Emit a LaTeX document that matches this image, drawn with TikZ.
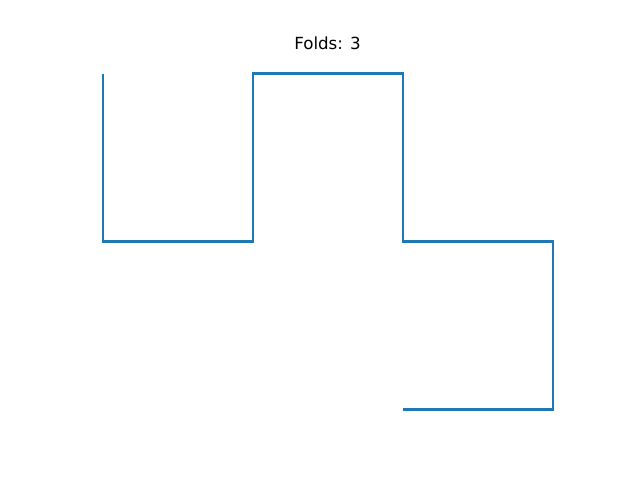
\documentclass[tikz,border=0pt]{standalone}
\usepackage{fontspec}
\setmainfont{DejaVu Sans}
\definecolor{mplblue}{HTML}{1F77B4}
\begin{document}
\begin{tikzpicture}[x=1pt,y=-1pt,
  curve/.style={draw=mplblue,line width=2.08pt,line join=miter,line cap=butt},
  titletext/.style={font=\fontsize{16.67}{20}\selectfont,anchor=base,inner sep=0pt}]
\useasboundingbox (0,0) rectangle (640,480);
\coordinate (p0) at (103,73.5);
\coordinate (p1) at (103,241.5);
\coordinate (p2) at (253,241.5);
\coordinate (p3) at (253,73.5);
\coordinate (p4) at (403,73.5);
\coordinate (p5) at (403,241.5);
\coordinate (p6) at (553,241.5);
\coordinate (p7) at (553,409.5);
\coordinate (p8) at (403,409.5);
\draw[curve] (p0) -- (p1) -- (p2) -- (p3) -- (p4) -- (p5) -- (p6) -- (p7) -- (p8);
\node[titletext] (title) at (327.5,49) {Folds: 3};
\end{tikzpicture}
\end{document}
